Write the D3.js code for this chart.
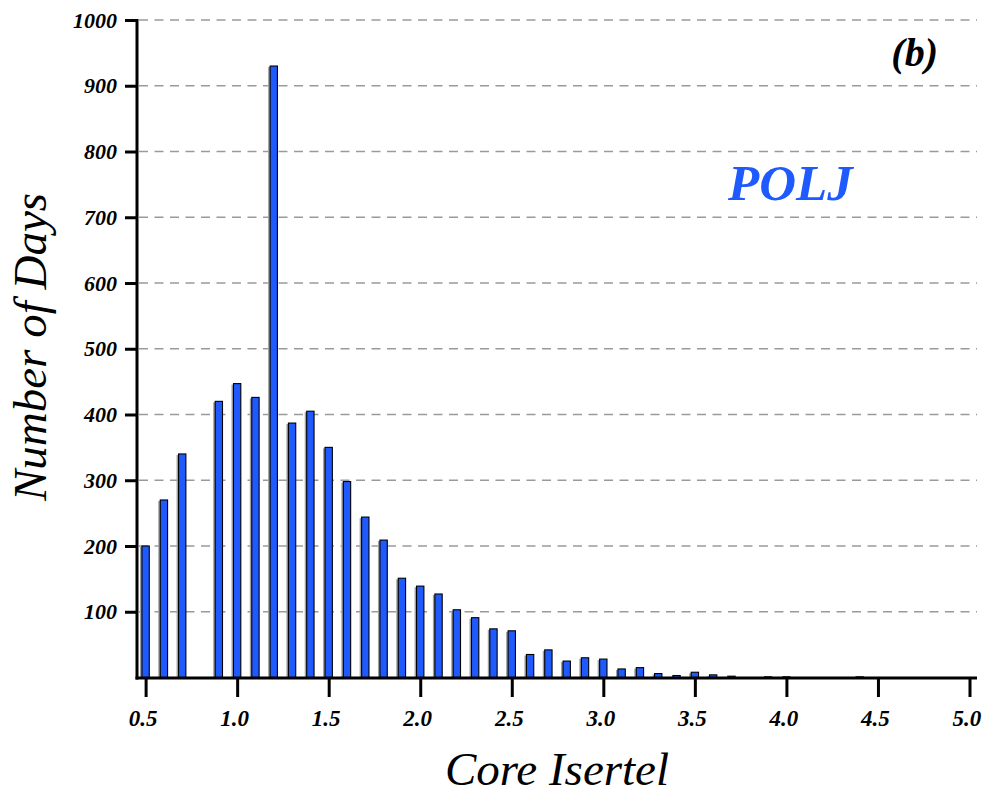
<!DOCTYPE html>
<html>
<head>
<meta charset="utf-8">
<script src="https://cdn.jsdelivr.net/npm/d3@7"></script>
<style>
  html, body { margin: 0; padding: 0; background: #fff; }
  svg { display: block; }
</style>
</head>
<body>
<svg id="chart" width="985" height="799"></svg>
<script>
// Histogram of daily core Isertel values (POLJ)
const binCenters = [0.5, 0.6, 0.7, 0.8, 0.9, 1.0, 1.1, 1.2, 1.3, 1.4,
                    1.5, 1.6, 1.7, 1.8, 1.9, 2.0, 2.1, 2.2, 2.3, 2.4,
                    2.5, 2.6, 2.7, 2.8, 2.9, 3.0, 3.1, 3.2, 3.3, 3.4,
                    3.5, 3.6, 3.7, 3.8, 3.9, 4.0, 4.1, 4.2, 4.3, 4.4];
const dayCounts  = [200, 270, 340, 0, 420, 447, 426, 930, 387, 405,
                    350, 298, 244, 209, 151, 139, 127, 103, 91, 74,
                    71, 35, 42, 25, 30, 28, 13, 15, 6, 3,
                    8, 4, 2, 0, 1, 1, 0, 0, 0, 1];
const xTicks = [0.5, 1.0, 1.5, 2.0, 2.5, 3.0, 3.5, 4.0, 4.5, 5.0];
const yTicks = [100, 200, 300, 400, 500, 600, 700, 800, 900, 1000];

const bins = binCenters.map((c, i) => ({ center: c, count: dayCounts[i] }));

const svg = d3.select("#chart");
const plotLeft = 137, plotRight = 977, plotTop = 20, plotBottom = 678;

const x = d3.scaleLinear().domain([0.453, 5.041]).range([plotLeft, plotRight]);
const y = d3.scaleLinear().domain([0, 1000]).range([677.5, plotTop]);
const binWidth = 0.04;
const serif = "'Liberation Serif', 'Times New Roman', serif";

function textStyle(sel, size, weight) {
  return sel.style("font-family", serif).style("font-style", "italic")
    .style("font-weight", weight).style("font-size", size + "px");
}

// dashed horizontal grid
svg.append("g").selectAll("line")
  .data(yTicks)
  .join("line")
  .attr("x1", plotLeft + 2).attr("x2", plotRight)
  .attr("y1", d => y(d)).attr("y2", d => y(d))
  .attr("stroke", "#9a9a9a")
  .attr("stroke-width", 1.5)
  .attr("stroke-dasharray", "9,6.5");

// bars with a soft drop shadow on the left
const barData = bins.filter(d => d.count > 0);
const bw = x(binWidth) - x(0);
svg.append("g").selectAll("rect")
  .data(barData)
  .join("rect")
  .attr("x", d => x(d.center) - bw / 2 - 2)
  .attr("y", d => y(d.count) + 1)
  .attr("width", bw)
  .attr("height", d => y(0) - y(d.count) - 1)
  .attr("fill", "#a0a0a0");
svg.append("g").selectAll("rect")
  .data(barData)
  .join("rect")
  .attr("x", d => x(d.center) - bw / 2)
  .attr("y", d => y(d.count))
  .attr("width", bw)
  .attr("height", d => y(0) - y(d.count))
  .attr("fill", "#1f5aff")
  .attr("stroke", "#000")
  .attr("stroke-width", 1.1);

// y axis
const yAxis = svg.append("g")
  .attr("transform", `translate(${plotLeft},0)`)
  .call(d3.axisLeft(y).tickValues(yTicks).tickSize(12).tickSizeOuter(0).tickPadding(8)
        .tickFormat(d3.format("d")));
yAxis.select(".domain").attr("stroke-width", 3).attr("d", `M0,${plotBottom + 1.5}V${plotTop - 1}`);
yAxis.selectAll(".tick line").attr("stroke-width", 3);
textStyle(yAxis.selectAll(".tick text"), 22, "bold").attr("fill", "#000");

// x axis
const xAxis = svg.append("g")
  .attr("transform", `translate(0,${plotBottom})`)
  .call(d3.axisBottom(x).tickValues(xTicks).tickSize(19).tickSizeOuter(0).tickPadding(13)
        .tickFormat(d3.format(".1f")));
xAxis.select(".domain").attr("stroke-width", 3).attr("d", `M${plotLeft - 1.5},0H${plotRight}`);
xAxis.selectAll(".tick line").attr("stroke-width", 3);
textStyle(xAxis.selectAll(".tick text"), 23, "bold").attr("fill", "#000").attr("dx", -3);

// axis titles
textStyle(svg.append("text")
  .attr("transform", "translate(46,347) rotate(-90)")
  .attr("text-anchor", "middle"), 47, "normal")
  .text("Number of Days");

textStyle(svg.append("text")
  .attr("x", (plotLeft + plotRight) / 2).attr("y", 785)
  .attr("text-anchor", "middle"), 47, "normal")
  .text("Core Isertel");

// panel annotations
textStyle(svg.append("text")
  .attr("x", 938).attr("y", 66)
  .attr("text-anchor", "end"), 40, "bold")
  .text("(b)");

textStyle(svg.append("text")
  .attr("x", 728).attr("y", 200), 51, "bold")
  .attr("fill", "#1f5aff")
  .text("POLJ");
</script>
</body>
</html>
